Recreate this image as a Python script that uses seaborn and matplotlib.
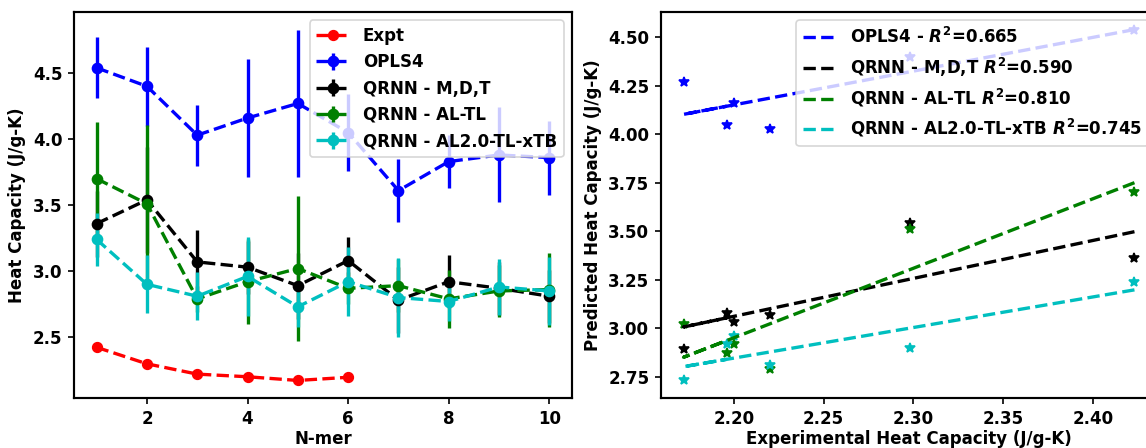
import numpy as np
import matplotlib
matplotlib.use("Agg")
import matplotlib.pyplot as plt
import seaborn as sns

sns.set_style("ticks")
plt.rcParams.update({
    "font.family": ["DejaVu Sans"],
    "font.weight": "bold",
    "axes.labelweight": "bold",
    "font.size": 10,
    "text.color": "black",
    "axes.labelcolor": "black",
    "xtick.color": "black",
    "ytick.color": "black",
    "axes.edgecolor": "black",
    "axes.linewidth": 1.3,
    "xtick.major.width": 1.0,
    "ytick.major.width": 1.0,
    "xtick.major.size": 3.5,
    "ytick.major.size": 3.5,
    "xtick.direction": "out",
    "ytick.direction": "out",
    "mathtext.default": "it",
})

# ---- data ----
nmer = [1, 2, 3, 4, 5, 6, 7, 8, 9, 10]
expt = [2.423, 2.298, 2.220, 2.200, 2.172, 2.196]

opls4 = [4.54, 4.40, 4.03, 4.16, 4.27, 4.05, 3.61, 3.83, 3.88, 3.86]
opls4_err = [0.23, 0.30, 0.23, 0.45, 0.56, 0.29, 0.24, 0.20, 0.36, 0.28]

qrnn_mdt = [3.36, 3.54, 3.07, 3.03, 2.89, 3.08, 2.78, 2.92, 2.87, 2.81]
qrnn_mdt_err = [0.25, 0.40, 0.24, 0.20, 0.25, 0.18, 0.25, 0.20, 0.20, 0.20]

qrnn_altl = [3.70, 3.51, 2.79, 2.92, 3.02, 2.87, 2.89, 2.79, 2.85, 2.86]
qrnn_altl_err = [0.43, 0.60, 0.10, 0.32, 0.55, 0.12, 0.20, 0.22, 0.20, 0.28]

qrnn_xtb = [3.24, 2.90, 2.81, 2.96, 2.73, 2.92, 2.80, 2.77, 2.88, 2.85]
qrnn_xtb_err = [0.20, 0.22, 0.18, 0.30, 0.15, 0.26, 0.30, 0.15, 0.21, 0.26]

names = ["OPLS4", "QRNN - M,D,T", "QRNN - AL-TL", "QRNN - AL2.0-TL-xTB"]
r2_labels = ["OPLS4 - $R^2$=0.665", "QRNN - M,D,T $R^2$=0.590",
             "QRNN - AL-TL $R^2$=0.810", "QRNN - AL2.0-TL-xTB $R^2$=0.745"]
colors = ["b", "k", "g", "c"]

W, H = 1146, 448
DPI = 120
fig = plt.figure(figsize=(W / DPI, H / DPI), dpi=DPI)
ax1 = fig.add_axes([74 / W, (H - 398) / H, 498 / W, 386 / H])
ax2 = fig.add_axes([661 / W, (H - 398) / H, 496 / W, 386 / H])

# ---- left panel ----
sns.lineplot(x=nmer[:len(expt)], y=expt, ax=ax1, color="r", marker="o",
             markersize=6, markeredgecolor="r", linestyle="--", linewidth=2,
             label="Expt", estimator=None, sort=False)
series = [(opls4, opls4_err), (qrnn_mdt, qrnn_mdt_err),
          (qrnn_altl, qrnn_altl_err), (qrnn_xtb, qrnn_xtb_err)]
for (vals, err), c, name in zip(series, colors, names):
    ax1.errorbar(nmer, vals, yerr=err, fmt="o--", color=c, lw=2, ms=6,
                 elinewidth=2, label=name)
ax1.set_xlabel("N-mer", labelpad=1.5)
ax1.set_ylabel("Heat Capacity (J/g-K)")
ax1.set_xticks([2, 4, 6, 8, 10])
ax1.set_yticks([2.5, 3.0, 3.5, 4.0, 4.5])
ax1.legend(loc="upper right", prop={"weight": "bold", "size": 10})

# ---- right panel ----
ex = np.array(expt)
for (vals, err), c in zip(series, colors):
    y = np.array(vals[:len(expt)])
    ax2.plot(ex, y, "*", color=c, ms=6)
for (vals, err), c, lab in zip(series, colors, r2_labels):
    y = np.array(vals[:len(expt)])
    p = np.polyfit(ex, y, 1)
    sns.lineplot(x=ex, y=np.polyval(p, ex), ax=ax2, color=c, linestyle="--",
                 linewidth=2, estimator=None, sort=False, label=lab)
ax2.set_xlabel("Experimental Heat Capacity (J/g-K)", labelpad=1.5)
ax2.set_ylabel("Predicted Heat Capacity (J/g-K)")
ax2.set_xticks([2.20, 2.25, 2.30, 2.35, 2.40])
ax2.set_yticks([2.75, 3.00, 3.25, 3.50, 3.75, 4.00, 4.25, 4.50])
ax2.yaxis.set_major_formatter(matplotlib.ticker.FormatStrFormatter("%.2f"))
ax2.xaxis.set_major_formatter(matplotlib.ticker.FormatStrFormatter("%.2f"))
ax2.legend(loc="upper right", prop={"weight": "bold", "size": 10})

for ax in (ax1, ax2):
    for s in ax.spines.values():
        s.set_visible(True)
        s.set_color("black")
        s.set_linewidth(1.3)

fig.savefig("out.png", dpi=DPI)
